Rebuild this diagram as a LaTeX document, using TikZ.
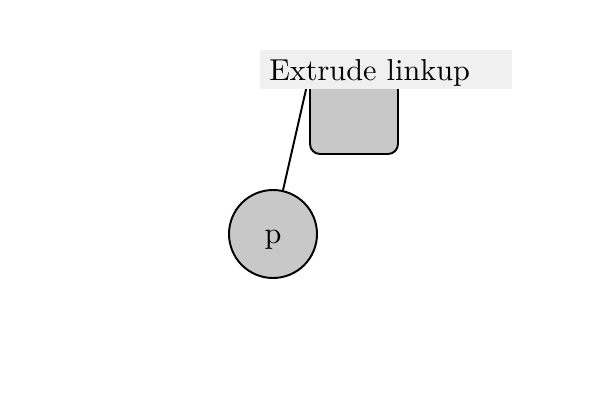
\documentclass[tikz,border=0pt]{standalone}
\usepackage{tikz}
\definecolor{shapegray}{RGB}{200,200,200}
\definecolor{labelgray}{RGB}{240,240,240}
\definecolor{inkblack}{RGB}{0,0,0}
\newcommand{\bigtxt}[1]{\scalebox{2.27}{\fontsize{10}{12}\selectfont #1}}
\tikzset{
  px/.style={x=0.75pt,y=-0.75pt},
  shapeline/.style={draw=inkblack,line width=1.45pt,fill=shapegray},
  conn/.style={draw=inkblack,line width=1.45pt},
  labelbox/.style={fill=labelgray,inner sep=0pt},
}
\begin{document}
\begin{tikzpicture}[px]
\useasboundingbox (0,0) rectangle (600,400);
% rounded block (top hidden behind label)
\draw[shapeline,rounded corners=7.5pt] (310,60) rectangle (398,154) coordinate (rbse);
\coordinate (rbnw) at (310,72);
% circle node
\node[shapeline,circle,minimum size=66pt,inner sep=0pt] (p) at (273,234) {};
\node[anchor=base,inner sep=0pt] (ptxt) at (273,243) {\bigtxt{p}};
\draw[conn] (p) -- (rbnw);
% label
\fill[labelgray] (260,50) rectangle (512,89) coordinate (lblse);
\node[anchor=base west,inner sep=0pt] (lbl) at (269,80) {\bigtxt{Extrude linkup}};
\end{tikzpicture}
\end{document}
